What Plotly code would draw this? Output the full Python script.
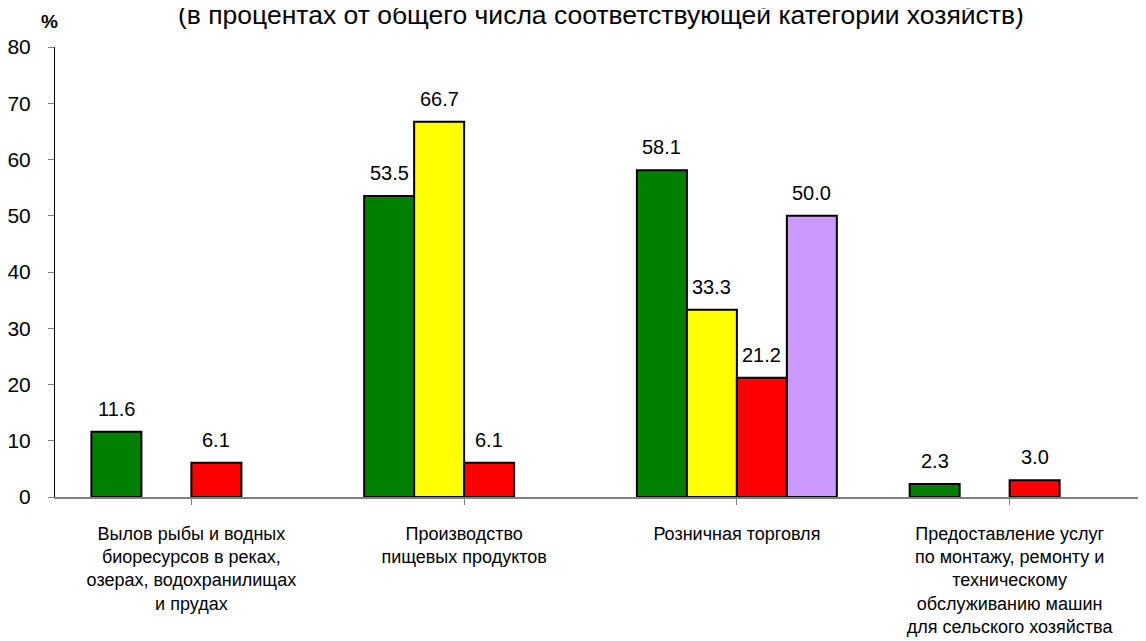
import plotly.graph_objects as go

categories = [
    "Вылов рыбы и водных<br>биоресурсов в реках,<br>озерах, водохранилищах<br>и прудах",
    "Производство<br>пищевых продуктов",
    "Розничная торговля",
    "Предоставление услуг<br>по монтажу, ремонту и<br>техническому<br>обслуживанию машин<br>для сельского хозяйства",
]
series_names = ["Серия 1", "Серия 2", "Серия 3", "Серия 4"]
green_vals = [11.6, 53.5, 58.1, 2.3]
yellow_vals = [None, 66.7, 33.3, None]
red_vals = [6.1, 6.1, 21.2, 3.0]
purple_vals = [None, None, 50.0, None]
colors = ["#008000", "#FFFF00", "#FF0000", "#CC99FF"]
title_text = "(в процентах от общего числа соответствующей категории хозяйств)"

FONT = "Arial, Liberation Sans, sans-serif"
all_series = [green_vals, yellow_vals, red_vals, purple_vals]
bargap = 0.267

fig = go.Figure()
for name, vals, col in zip(series_names, all_series, colors):
    fig.add_trace(
        go.Bar(
            x=list(range(len(categories))),
            y=vals,
            name=name,
            marker=dict(color=col, line=dict(color="black", width=2)),
            hoverinfo="y",
        )
    )

# value labels above bars
annotations = []
bar_w = (1 - bargap) / len(all_series)
for j, vals in enumerate(all_series):
    for i, v in enumerate(vals):
        if v is None:
            continue
        annotations.append(
            dict(
                x=i + (j - 1.5) * bar_w, y=v, xref="x", yref="y",
                text=f"{v:.1f}", showarrow=False, yanchor="bottom", yshift=10,
                font=dict(size=20, color="black", family=FONT),
            )
        )

annotations.append(
    dict(x=0.5, y=1.033, xref="paper", yref="paper", text=title_text, showarrow=False,
         yanchor="bottom", font=dict(size=26.5, color="black", family=FONT))
)
annotations.append(
    dict(x=-0.0046, y=1.056, xref="paper", yref="paper", text="<b>%</b>", showarrow=False,
         xanchor="center", yanchor="middle", font=dict(size=19, color="black", family=FONT))
)

# page body has an 8px margin, so the margins are shifted to compensate
fig.update_layout(
    width=1146,
    height=641,
    margin=dict(l=47, r=8, t=39, b=152),
    paper_bgcolor="white",
    plot_bgcolor="white",
    barmode="group",
    bargap=bargap,
    bargroupgap=0,
    showlegend=False,
    font=dict(family=FONT, size=20, color="black"),
    annotations=annotations,
)

fig.update_xaxes(
    tickmode="array",
    tickvals=list(range(len(categories))),
    ticktext=categories,
    range=[-0.5, len(categories) - 0.5],
    showline=True,
    linecolor="#808080",
    linewidth=2,
    ticks="outside",
    tickson="boundaries",
    ticklen=6,
    tickcolor="#808080",
    tickwidth=1,
    ticklabelstandoff=13,
    showgrid=False,
    zeroline=False,
    automargin=False,
    tickfont=dict(size=18),
)
fig.update_yaxes(
    range=[0, 80],
    dtick=10,
    showline=True,
    linecolor="black",
    linewidth=1,
    ticks="outside",
    ticklen=6,
    tickcolor="#808080",
    ticklabelstandoff=13,
    showgrid=False,
    zeroline=False,
    automargin=False,
    tickfont=dict(size=21),
)

fig.write_html("out.html")
